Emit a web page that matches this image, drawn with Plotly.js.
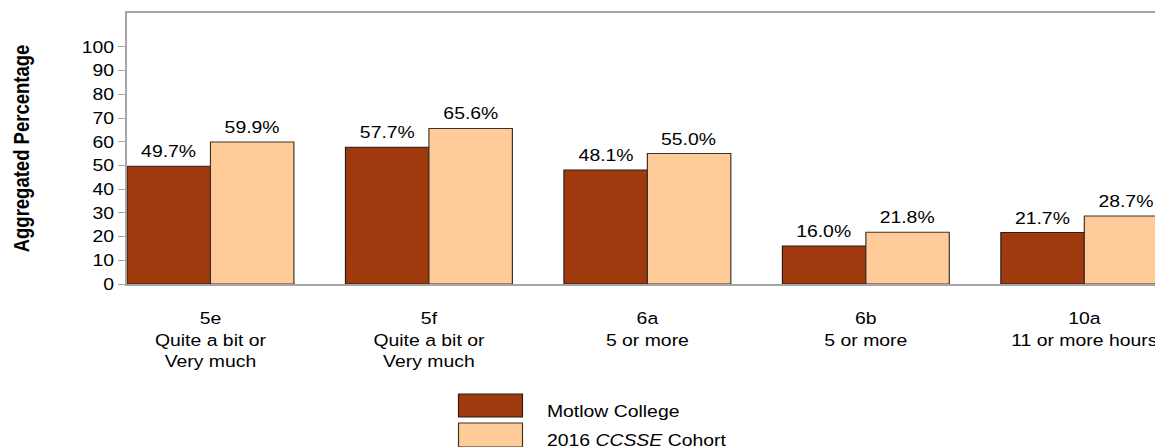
<!DOCTYPE html>
<html>
<head>
<meta charset="utf-8">
<script src="https://cdn.plot.ly/plotly-3.0.1.min.js"></script>
<style>
html,body{margin:0;padding:0;overflow:hidden;background:#fff;width:1155px;height:447px;}
#chart{transform-origin:0 0;}
</style>
</head>
<body>
<div id="chart"></div>
<script>
// Data
const categories = ["5e<br>Quite a bit or<br>Very much", "5f<br>Quite a bit or<br>Very much", "6a<br>5 or more", "6b<br>5 or more", "10a<br>11 or more hours"];
const seriesNames = ["Motlow College", "2016 <i>CCSSE</i> Cohort"];
const motlowValues = [49.7, 57.7, 48.1, 16.0, 21.7];
const cohortValues = [59.9, 65.6, 55.0, 21.8, 28.7];
const yTicks = [0, 10, 20, 30, 40, 50, 60, 70, 80, 90, 100];
const yTitle = "Aggregated Percentage";

// Styles
const colors = ["#9e3a0e", "#ffcc99"];
const borders = ["#2b1d14", "#3e3226"];
const font = "Arial, 'Liberation Sans', sans-serif";
const FS = 16.5;

// The reference text is horizontally wide; emulate with a horizontal stretch of the whole figure
const SX = 1.176;
const M = {l: 108, r: 5, t: 13, b: 163};
const plotW = 885;
const W = M.l + plotW + M.r;
const H = 447;
const plotH = H - M.t - M.b;
const nCat = categories.length;
const bargap = 0.236;
const xRange = [-(1 - bargap) / 2, nCat - 1 + (1 - bargap) / 2];
const pxPerCat = plotW / (xRange[1] - xRange[0]);
const barPx = pxPerCat * (1 - bargap) / 2;

const el = document.getElementById("chart");
el.style.width = W + "px";
el.style.height = H + "px";
el.style.transform = "scaleX(" + SX + ")";

const traces = [motlowValues, cohortValues].map((vals, i) => ({
  type: "bar",
  name: seriesNames[i],
  x: categories,
  y: vals,
  marker: {color: colors[i], line: {color: borders[i], width: 1}},
  hoverinfo: "none",
  showlegend: false
}));

const annotations = [];
[motlowValues, cohortValues].forEach((vals, i) => {
  vals.forEach((v, j) => {
    annotations.push({
      x: categories[j], y: v, xref: "x", yref: "y",
      text: v.toFixed(1) + "%",
      showarrow: false,
      xanchor: "center", yanchor: "bottom",
      xshift: (i === 0 ? -1 : 1) * barPx / 2,
      yshift: 4,
      font: {family: font, size: FS, color: "#000"}
    });
  });
});

// screen pixel -> paper conversions (screen x is stretched by SX)
const px2x = px => (px / SX - M.l) / plotW;
const py2y = py => (H - M.b - py) / plotH;

// Y axis title
annotations.push({
  xref: "paper", yref: "paper",
  x: px2x(21), y: 0.5,
  xanchor: "center", yanchor: "middle",
  text: "<b>" + yTitle + "</b>", textangle: -90, showarrow: false,
  font: {family: font, size: 18.5, color: "#000"}
});

// Legend drawn with shapes and annotations
const legendRows = [{top: 394, bottom: 417, textY: 411}, {top: 423, bottom: 447, textY: 440}];
const shapes = [];
legendRows.forEach((r, i) => {
  shapes.push({
    type: "rect", xref: "paper", yref: "paper",
    x0: px2x(458.5), x1: px2x(522.5), y0: py2y(r.bottom), y1: py2y(r.top),
    fillcolor: colors[i], line: {color: borders[i], width: 1}
  });
  annotations.push({
    xref: "paper", yref: "paper",
    x: px2x(545), y: py2y(r.textY),
    xanchor: "left", yanchor: "middle",
    text: seriesNames[i], showarrow: false,
    font: {family: font, size: FS, color: "#000"}
  });
});

const layout = {
  width: W, height: H,
  margin: M,
  paper_bgcolor: "#fff", plot_bgcolor: "#fff",
  barmode: "group",
  bargap: bargap, bargroupgap: 0,
  showlegend: false,
  font: {family: font, size: FS, color: "#000"},
  xaxis: {
    type: "category",
    range: xRange,
    showline: true, mirror: true, linecolor: "#a6a6a6", linewidth: 1.7,
    ticks: "", showgrid: false, zeroline: false,
    ticklabelstandoff: 19,
    tickfont: {family: font, size: FS, color: "#000"}
  },
  yaxis: {
    range: [0, 114.3],
    tickvals: yTicks,
    ticktext: yTicks.map(String),
    showline: true, mirror: true, linecolor: "#a6a6a6", linewidth: 1.7,
    ticks: "outside", ticklen: 6, tickcolor: "#a6a6a6", tickwidth: 1,
    showgrid: false, zeroline: false,
    tickfont: {family: font, size: FS, color: "#000"}
  },
  shapes: shapes,
  annotations: annotations
};

Plotly.newPlot("chart", traces, layout, {displayModeBar: false, staticPlot: true});
</script>
</body>
</html>
